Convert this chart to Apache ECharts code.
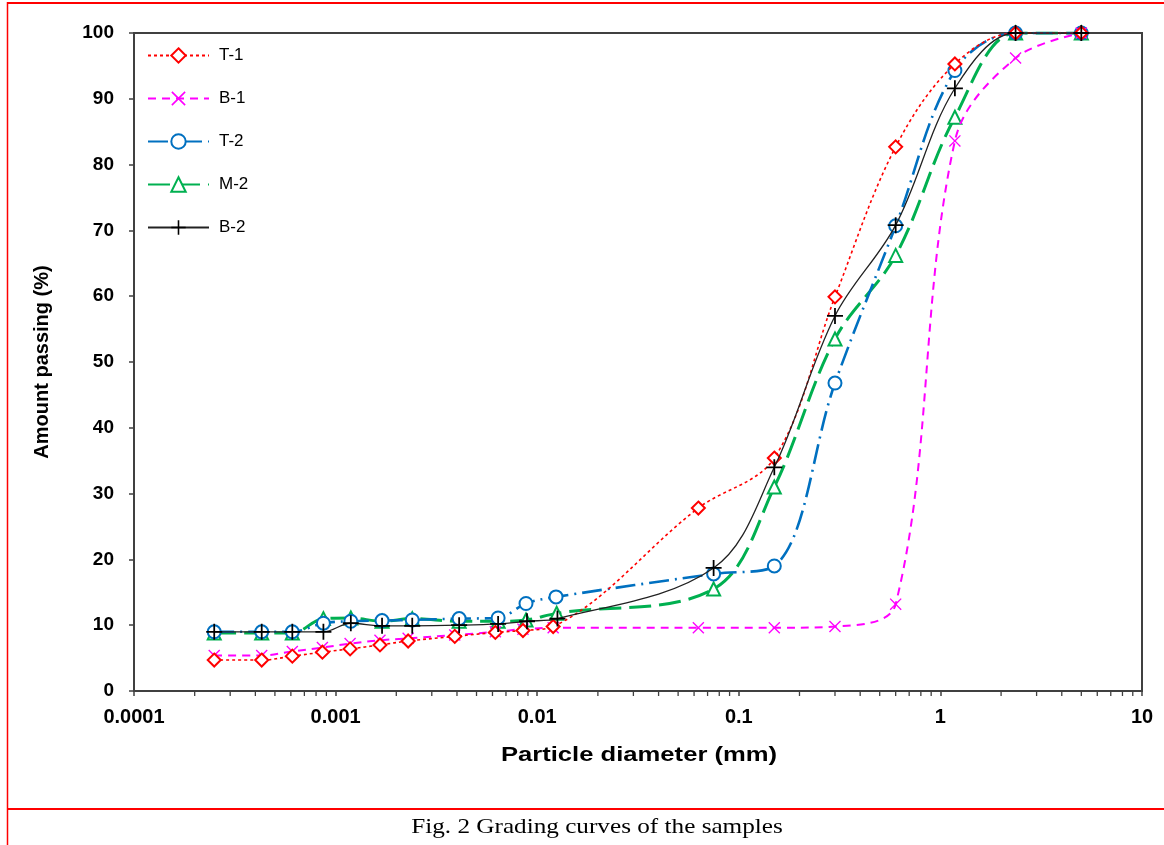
<!DOCTYPE html>
<html>
<head>
<meta charset="utf-8">
<script src="https://cdn.jsdelivr.net/npm/echarts@6/dist/echarts.min.js"></script>
<style>html,body{margin:0;padding:0;background:#fff;}#c{width:1164px;height:845px;}</style>
</head>
<body>
<div id="c"></div>
<script>
// ---- data ----
const seriesNames = ['T-1', 'B-1', 'T-2', 'M-2', 'B-2'];
const xT1 = [0.00025,0.00043,0.00061,0.00086,0.00118,0.00166,0.00229,0.0039,0.0062,0.0085,0.012,0.063,0.15,0.3,0.6,1.18,2.36,5];
const yT1 = [4.7,4.7,5.3,5.9,6.4,7.0,7.6,8.3,8.9,9.2,9.8,27.8,35.4,59.9,82.7,95.3,100,100];
const xB1 = [0.00025,0.00043,0.00061,0.00086,0.00118,0.00166,0.00229,0.0039,0.0062,0.0085,0.012,0.063,0.15,0.3,0.6,1.18,2.36,5];
const yB1 = [5.4,5.4,6.0,6.6,7.2,7.7,8.0,8.5,9.0,9.4,9.6,9.6,9.6,9.8,13.2,83.6,96.2,100];
const xT2 = [0.00025,0.00043,0.00061,0.00087,0.00119,0.0017,0.0024,0.0041,0.0064,0.0088,0.0124,0.075,0.15,0.3,0.6,1.18,2.36,5];
const yT2 = [9.0,9.0,9.0,10.3,10.6,10.7,10.8,11.0,11.1,13.3,14.3,17.8,19.0,46.8,70.7,94.3,100,100];
const xM2 = [0.00025,0.00043,0.00061,0.00087,0.00119,0.0017,0.0024,0.0041,0.0064,0.0088,0.0125,0.075,0.15,0.3,0.6,1.18,2.36,5];
const yM2 = [8.8,8.8,8.8,11.0,11.1,10.6,11.0,10.6,10.6,10.8,11.8,15.5,31.0,53.5,66.2,87.2,100,100];
const xB2 = [0.00025,0.00043,0.00061,0.00087,0.00119,0.0017,0.0024,0.0041,0.0064,0.0089,0.0126,0.075,0.15,0.3,0.6,1.18,2.36,5];
const yB2 = [9.0,9.0,9.0,9.0,10.3,9.9,9.9,10.0,10.2,10.6,11.0,18.7,34.0,57.0,70.8,91.6,100,100];
const xTickLabels = ['0.0001','0.001','0.01','0.1','1','10'];
const xAxisTitle = 'Particle diameter (mm)';
const yAxisTitle = 'Amount passing (%)';
const captionText = 'Fig. 2 Grading curves of the samples';
const minorTickValues = [];
[0.0001,0.001,0.01,0.1,1].forEach(d => { for (let k = 2; k <= 9; k++) minorTickValues.push(+(d*k).toPrecision(3)); });

const pair = (xs, ys) => xs.map((x, i) => [x, ys[i]]);

const plusPath = 'path://M-1.1,-10 L1.1,-10 L1.1,-1.1 L10,-1.1 L10,1.1 L1.1,1.1 L1.1,10 L-1.1,10 L-1.1,1.1 L-10,1.1 L-10,-1.1 L-1.1,-1.1 Z';
const xPath = 'path://M-10,-8.4 L-8.4,-10 L0,-1.6 L8.4,-10 L10,-8.4 L1.6,0 L10,8.4 L8.4,10 L0,1.6 L-8.4,10 L-10,8.4 L-1.6,0 Z';

const chart = echarts.init(document.getElementById('c'), null, {renderer: 'canvas'});
const axisColor = '#404040';
const font = 'Liberation Sans, Arial, sans-serif';

chart.setOption({
  animation: false,
  backgroundColor: '#fff',
  graphic: [
    {type: 'line', shape: {x1: 7, y1: 3, x2: 1164, y2: 3}, style: {stroke: '#ff0000', lineWidth: 2}},
    {type: 'line', shape: {x1: 7.5, y1: 2, x2: 7.5, y2: 845}, style: {stroke: '#ff0000', lineWidth: 1.5}},
    {type: 'line', shape: {x1: 7, y1: 809, x2: 1164, y2: 809}, style: {stroke: '#ff0000', lineWidth: 2}},
    {type: 'text', x: 639, y: 755, scaleX: 1.22,
      style: {text: xAxisTitle, fontFamily: font, fontSize: 21, fontWeight: 'bold', fill: '#000', textAlign: 'center', textVerticalAlign: 'middle'}},
    {type: 'text', x: 597, y: 827, scaleX: 1.2,
      style: {text: captionText, fontFamily: 'Liberation Serif, Times New Roman, serif', fontSize: 21, fill: '#000', textAlign: 'center', textVerticalAlign: 'middle'}}
  ],
  grid: {left: 134, right: 22, top: 33, bottom: 154, show: true, borderColor: axisColor, borderWidth: 2, backgroundColor: 'transparent'},
  legend: {
    data: seriesNames,
    orient: 'vertical',
    left: 142, top: 42,
    itemWidth: 61, itemHeight: 18, itemGap: 26,
    textStyle: {fontFamily: font, fontSize: 17, color: '#000', padding: [0, 0, 0, 5]}
  },
  xAxis: {
    type: 'log', logBase: 10, min: 0.0001, max: 10,
    axisLine: {show: true, lineStyle: {color: axisColor, width: 2}},
    axisTick: {show: true, inside: false, length: 5, lineStyle: {color: axisColor, width: 1.5}},
    axisLabel: {margin: 16, fontFamily: font, fontSize: 20, fontWeight: 'bold', color: '#000',
      formatter: (v, i) => xTickLabels[i] !== undefined ? xTickLabels[i] : ''},
    splitLine: {show: false}
  },
  yAxis: {
    type: 'value', min: 0, max: 100, interval: 10,
    name: yAxisTitle, nameLocation: 'middle', nameGap: 82,
    nameTextStyle: {fontFamily: font, fontSize: 20, fontWeight: 'bold', color: '#000'},
    axisLine: {show: true, lineStyle: {color: axisColor, width: 2}},
    axisTick: {show: true, inside: false, length: 5, lineStyle: {color: axisColor, width: 1.5}},
    axisLabel: {margin: 20, fontFamily: font, fontSize: 19, fontWeight: 'bold', color: '#000'},
    splitLine: {show: false}
  },
  series: [
    {
      type: 'custom', name: 'minorTicks', silent: true, clip: false, z: 1,
      data: minorTickValues.map(v => [v, 0]),
      renderItem: (params, api) => {
        const p = api.coord([api.value(0), 0]);
        return {type: 'line', shape: {x1: p[0], y1: p[1], x2: p[0], y2: p[1] + 5}, style: {stroke: axisColor, lineWidth: 1.3}};
      }
    },
    {
      name: 'T-1', type: 'line', smooth: 0.35, data: pair(xT1, yT1), z: 5,
      symbol: 'emptyDiamond', symbolSize: 13,
      lineStyle: {color: '#ff0000', width: 1.6, type: [3, 3]},
      itemStyle: {color: '#ff0000', borderWidth: 1.8}
    },
    {
      name: 'B-1', type: 'line', smooth: 0.35, data: pair(xB1, yB1), z: 4,
      symbol: xPath, symbolSize: 12,
      lineStyle: {color: '#ff00ff', width: 2, type: [8, 6]},
      itemStyle: {color: '#ff00ff'}
    },
    {
      name: 'T-2', type: 'line', smooth: 0.35, data: pair(xT2, yT2), z: 3,
      symbol: 'emptyCircle', symbolSize: 13,
      lineStyle: {color: '#0070c0', width: 2.6, type: [20, 6, 2, 6]},
      itemStyle: {color: '#0070c0', borderWidth: 1.6}
    },
    {
      name: 'M-2', type: 'line', smooth: 0.35, data: pair(xM2, yM2), z: 2,
      symbol: 'emptyTriangle', symbolSize: 13,
      lineStyle: {color: '#00b050', width: 3, type: [22, 8]},
      itemStyle: {color: '#00b050', borderWidth: 1.8}
    },
    {
      name: 'B-2', type: 'line', smooth: 0.35, data: pair(xB2, yB2), z: 6,
      symbol: plusPath, symbolSize: 16,
      lineStyle: {color: '#222222', width: 1.3, type: 'solid'},
      itemStyle: {color: '#000000'}
    }
  ]
});
</script>
</body>
</html>
